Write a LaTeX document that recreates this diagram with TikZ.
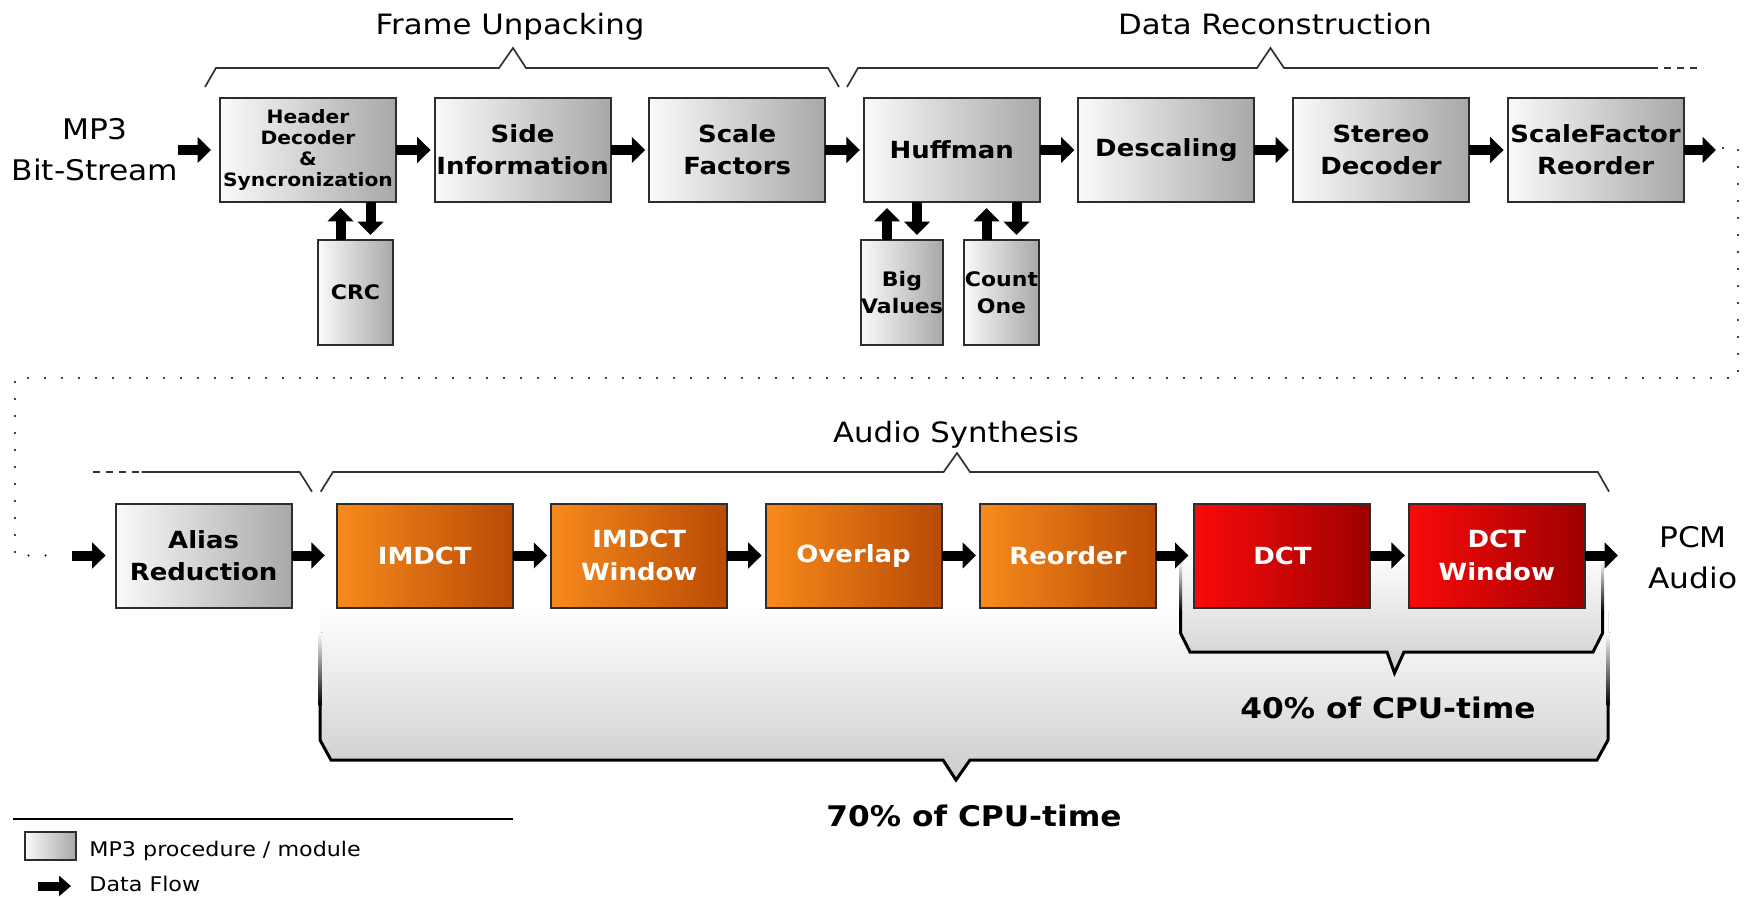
\documentclass[tikz,border=0pt]{standalone}
\usepackage{fontspec}
\setmainfont[FakeStretch=1.1]{DejaVu Sans}
\usetikzlibrary{arrows.meta}
\definecolor{gleft}{RGB}{250,250,250}
\definecolor{gright}{RGB}{168,168,168}
\definecolor{oleft}{RGB}{248,138,28}
\definecolor{oright}{RGB}{184,74,4}
\definecolor{rleft}{RGB}{250,10,10}
\definecolor{rright}{RGB}{158,0,0}
\definecolor{boxline}{RGB}{45,45,45}
\definecolor{braceline}{RGB}{50,50,50}
\begin{document}
\begin{tikzpicture}[x=0.5pt,y=-0.5pt,
  gbox/.style={draw=boxline, line width=1pt, left color=gleft, right color=gright,
    minimum width=88pt, minimum height=52pt, inner sep=0pt, outer sep=0pt,
    align=center, text=black, font=\bfseries\fontsize{11.8pt}{16.2pt}\selectfont},
  obox/.style={gbox, left color=oleft, right color=oright, text=white},
  rbox/.style={gbox, left color=rleft, right color=rright, text=white},
  sbox/.style={gbox, minimum width=37.5pt, minimum height=52.5pt,
    font=\bfseries\fontsize{10pt}{13.3pt}\selectfont},
  flow/.style={line width=5pt, -{Triangle[length=6.7pt,width=12.7pt]}},
  flowsm/.style={line width=4.5pt, -{Triangle[length=6pt,width=10pt]}},
  bracel/.style={draw=braceline, line width=0.85pt, line join=miter},
  braced/.style={bracel, dash pattern=on 3.5pt off 3pt},
  dotline/.style={line width=1.1pt, line cap=round, dash pattern=on 0pt off 8.5pt},
  cpuline/.style={line width=1.5pt, black, line join=miter},
  lbl/.style={inner sep=0pt, font=\fontsize{14pt}{17pt}\selectfont},
  iolbl/.style={inner sep=0pt, align=center, font=\fontsize{14.2pt}{20.5pt}\selectfont},
  cpulbl/.style={inner sep=0pt, font=\bfseries\fontsize{14.2pt}{17pt}\selectfont},
  legfont/.style={inner sep=0pt, font=\fontsize{10.1pt}{12pt}\selectfont}
]
\useasboundingbox (0,0) rectangle (1749,897);

% ---- CPU-time brackets (background) ----
\fill[top color=white, bottom color=black!20] (320,610) -- (320,740) -- (331,760) -- (943,760) -- (956,780) -- (970,760) -- (1597,760) -- (1608,740) -- (1608,610) -- cycle;
\fill[top color=white, bottom color=black] (318.5,632) rectangle (321.5,705);
\fill[top color=white, bottom color=black] (1606.5,632) rectangle (1609.5,705);
\draw[cpuline] (320,705) -- (320,740) -- (331,760) -- (943,760) -- (956,780) -- (970,760) -- (1597,760) -- (1608,740) -- (1608,705);

\fill[top color=white, bottom color=black!19] (1180.5,552) -- (1180.5,633) -- (1190,652) -- (1387,652) -- (1394.5,673) -- (1404,652) -- (1593,652) -- (1602.6,633) -- (1602.6,552) -- cycle;
\fill[top color=white, bottom color=black] (1179,560) rectangle (1182,612);
\fill[top color=white, bottom color=black] (1601.1,560) rectangle (1604.1,612);
\draw[cpuline] (1180.5,612) -- (1180.5,633) -- (1190,652) -- (1387,652) -- (1394.5,673) -- (1404,652) -- (1593,652) -- (1602.6,633) -- (1602.6,612);

% ---- braces ----
\draw[bracel] (205,87) -- (216,68) -- (499,68) -- (513,48) -- (526,68) -- (828,68) -- (839,87);
\draw[bracel] (847,87) -- (858,68) -- (1257,68) -- (1270.5,48) -- (1284,68) -- (1651,68);
\draw[braced] (1651,68) -- (1703,68);
\draw[braced] (93,472) -- (141.6,472);
\draw[bracel] (141.6,472) -- (299.6,472) -- (312,491.7);
\draw[bracel] (320.7,491.7) -- (333,472) -- (943.6,472) -- (957,453) -- (970,472) -- (1597.8,472) -- (1609,491.7);

\node[lbl, anchor=base] (fu) at (510,35) {Frame Unpacking};
\node[lbl, anchor=base] (dr) at (1275,35) {Data Reconstruction};
\node[lbl, anchor=base] (as) at (956,443) {Audio Synthesis};

% ---- top row ----
\node[iolbl] (mp3) at (95,150) {MP3\\Bit-Stream};
\node[gbox, font=\bfseries\fontsize{9.2pt}{10.5pt}\selectfont] (hdr) at (308,150) {Header\\Decoder\\\&\\Syncronization};
\node[gbox] (side) at (522.6,150) {Side\\Information};
\node[gbox] (scf) at (737.2,150) {Scale\\Factors};
\node[gbox] (huf) at (951.8,150) {Huffman};
\node[gbox] (desc) at (1166.4,150) {Descaling};
\node[gbox] (ster) at (1381,150) {Stereo\\Decoder};
\node[gbox] (sfr) at (1595.6,150) {ScaleFactor\\Reorder};

\node[sbox] (crc) at (355.5,292.5) {CRC};
\node[sbox] (bv) at (902,292.5) {Big\\Values};
\node[sbox] (co) at (1001.5,292.5) {Count\\One};

\coordinate (in) at (178,150);
\coordinate (sfrout) at (1716,150);
\draw[flow, shorten >=4.5pt] (in) -- (hdr.west);
\draw[flow, shorten >=2pt] (hdr.east) -- (side.west);
\draw[flow, shorten >=2pt] (side.east) -- (scf.west);
\draw[flow, shorten >=2pt] (scf.east) -- (huf.west);
\draw[flow, shorten >=2pt] (huf.east) -- (desc.west);
\draw[flow, shorten >=2pt] (desc.east) -- (ster.west);
\draw[flow, shorten >=2pt] (ster.east) -- (sfr.west);
\draw[flow] (sfr.east) -- (sfrout);

\draw[flow, shorten >=3pt] ([xshift=-7.5pt]crc.north) -- ([xshift=-7.5pt]crc.north |- hdr.south);
\draw[flow, shorten >=2.5pt] ([xshift=7.5pt]crc.north |- hdr.south) -- ([xshift=7.5pt]crc.north);
\draw[flow, shorten >=3pt] ([xshift=-7.5pt]bv.north) -- ([xshift=-7.5pt]bv.north |- huf.south);
\draw[flow, shorten >=2.5pt] ([xshift=7.5pt]bv.north |- huf.south) -- ([xshift=7.5pt]bv.north);
\draw[flow, shorten >=3pt] ([xshift=-7.5pt]co.north) -- ([xshift=-7.5pt]co.north |- huf.south);
\draw[flow, shorten >=2.5pt] ([xshift=7.5pt]co.north |- huf.south) -- ([xshift=7.5pt]co.north);

% ---- dotted link ----
\coordinate (dotA) at (1723,148);
\coordinate (dotB) at (62,555.5);
\draw[dotline] (dotA) -- (1738,148) -- (1738,378) -- (15,378) -- (15,555.5) -- (dotB);

% ---- bottom row ----
\node[gbox] (alias) at (203.6,555.5) {Alias\\Reduction};
\node[obox] (imdct) at (424.8,555.5) {IMDCT};
\node[obox] (imdw) at (639.2,555.5) {IMDCT\\Window};
\node[obox] (ovl) at (853.6,555.5) {Overlap};
\node[obox] (reo) at (1068,555.5) {Reorder};
\node[rbox] (dct) at (1282.4,555.5) {DCT};
\node[rbox] (dctw) at (1496.8,555.5) {DCT\\Window};
\node[iolbl] (pcm) at (1693,557.5) {PCM\\Audio};

\coordinate (ain) at (71.7,555.5);
\coordinate (pcmin) at (1618,555.5);
\draw[flow, shorten >=5pt] (ain) -- (alias.west);
\draw[flow, shorten >=6pt] (alias.east) -- (imdct.west);
\draw[flow, shorten >=2pt] (imdct.east) -- (imdw.west);
\draw[flow, shorten >=2pt] (imdw.east) -- (ovl.west);
\draw[flow, shorten >=2pt] (ovl.east) -- (reo.west);
\draw[flow, shorten >=3pt] (reo.east) -- (dct.west);
\draw[flow, shorten >=2pt] (dct.east) -- (dctw.west);
\draw[flow] (dctw.east) -- (pcmin);

\node[cpulbl, anchor=base] (p40) at (1388,718) {40\% of CPU-time};
\node[cpulbl, anchor=base] (p70) at (974,826) {70\% of CPU-time};

% ---- legend ----
\coordinate (legL) at (13.4,819);
\coordinate (legR) at (513,819);
\draw[line width=0.8pt] (legL) -- (legR);
\node[gbox, minimum width=25.5pt, minimum height=14pt] (legbox) at (50.5,846) {};
\node[legfont, anchor=base west] (legt1) at (89,856) {MP3 procedure / module};
\coordinate (la) at (38,886);
\coordinate (lb) at (71,886);
\draw[flowsm] (la) -- (lb);
\node[legfont, anchor=base west] (legt2) at (89,891) {Data Flow};
\end{tikzpicture}
\end{document}
